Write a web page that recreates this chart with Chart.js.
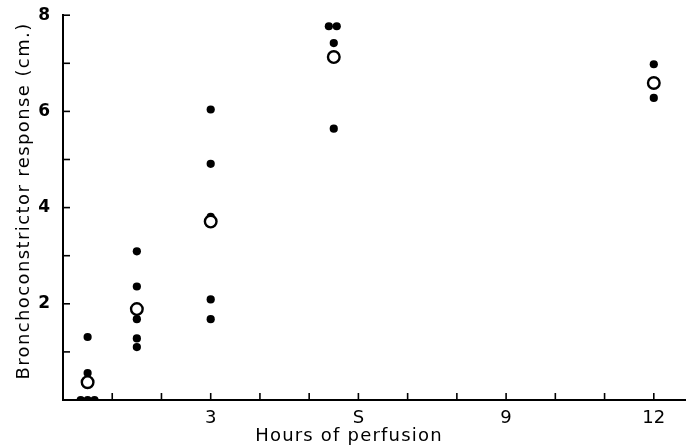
<!DOCTYPE html>
<html><head><meta charset="utf-8">
<script src="https://cdn.jsdelivr.net/npm/chart.js@4/dist/chart.umd.min.js"></script>
<style>html,body{margin:0;padding:0;background:#fff}#w{width:694px;height:447px}</style>
</head><body><div id="w"><canvas id="c" width="694" height="447"></canvas></div>
<script>
const hours = [0.5, 1.5, 3, 5.5, 12];
const meanY = [0.37, 1.89, 3.71, 7.13, 6.59];
const individualX = [0.36, 0.5, 0.64, 0.5, 0.5, 1.5, 1.5, 1.5, 1.5, 1.5, 3, 3, 3, 3, 3, 5.4, 5.56, 5.5, 5.5, 5.5, 12, 12];
const individualY = [0, 0, 0, 0.56, 1.31, 3.09, 2.36, 1.68, 1.28, 1.10, 6.04, 4.91, 3.81, 2.09, 1.68, 7.77, 7.77, 7.42, 7.1, 5.64, 6.98, 6.28];
const xTicks = [3, 6, 9, 12];
const xTickLabels = ['3', 'S', '9', '12'];
const yTicks = [2, 4, 6, 8];
const yTitle = 'Bronchoconstrictor response (cm.)';
const xTitle = 'Hours of perfusion';

const pts = individualX.map((x, i) => ({x, y: individualY[i]}));
const means = hours.map((x, i) => ({x, y: meanY[i]}));

const decorations = {
  id: 'decorations',
  afterDraw(chart) {
    const ctx = chart.ctx, a = chart.chartArea;
    const xs = chart.scales.x, ys = chart.scales.y;
    ctx.save();
    ctx.strokeStyle = '#000'; ctx.lineWidth = 1.6;
    for (let h = 1; h <= 12; h++) {
      const px = xs.getPixelForValue(h);
      ctx.beginPath(); ctx.moveTo(px, a.bottom); ctx.lineTo(px, a.bottom - 7); ctx.stroke();
    }
    for (let v = 1; v <= 8; v++) {
      const py = ys.getPixelForValue(v);
      ctx.beginPath(); ctx.moveTo(a.left, py); ctx.lineTo(a.left + 7, py); ctx.stroke();
    }
    ctx.fillStyle = '#000';
    ctx.font = '18px "DejaVu Sans"';
    ctx.textAlign = 'center'; ctx.textBaseline = 'middle';
    ctx.letterSpacing = '1.2px';
    ctx.fillText(xTitle, 349, 436);
    ctx.letterSpacing = '1.4px';
    ctx.translate(24, 201); ctx.rotate(-Math.PI / 2);
    ctx.fillText(yTitle, 0, 0);
    ctx.restore();
  }
};

new Chart(document.getElementById('c'), {
  type: 'scatter',
  data: { datasets: [
    { data: means, pointRadius: 5.8, pointBackgroundColor: '#fff', pointBorderColor: '#000', pointBorderWidth: 2.4 },
    { data: pts, pointRadius: 4.1, pointBackgroundColor: '#000', pointBorderColor: '#000', pointBorderWidth: 0 }
  ]},
  plugins: [decorations],
  options: {
    responsive: false, animation: false,
    layout: { padding: { top: 14, right: -6, left: 0, bottom: 0 } },
    plugins: { legend: { display: false }, tooltip: { enabled: false } },
    scales: {
      x: { type: 'linear', min: 0, max: 12.65,
        afterBuildTicks: s => { s.ticks = xTicks.map(v => ({value: v})); },
        afterFit: s => { s.height = 47; },
        ticks: { color: '#000', font: { family: 'DejaVu Sans', size: 18 }, maxRotation: 0, autoSkip: false, padding: 0,
          callback: v => { const k = xTicks.indexOf(v); return k >= 0 ? xTickLabels[k] : ''; } },
        grid: { display: false },
        border: { color: '#000', width: 2 } },
      y: { min: 0, max: 8,
        afterBuildTicks: s => { s.ticks = yTicks.map(v => ({value: v})); },
        afterFit: s => { s.width = 63; },
        ticks: { color: '#000', font: { family: 'DejaVu Sans', size: 17, weight: 'bold' }, autoSkip: false, padding: 5 },
        grid: { display: false },
        border: { color: '#000', width: 2 } }
    }
  }
});
</script></body></html>
